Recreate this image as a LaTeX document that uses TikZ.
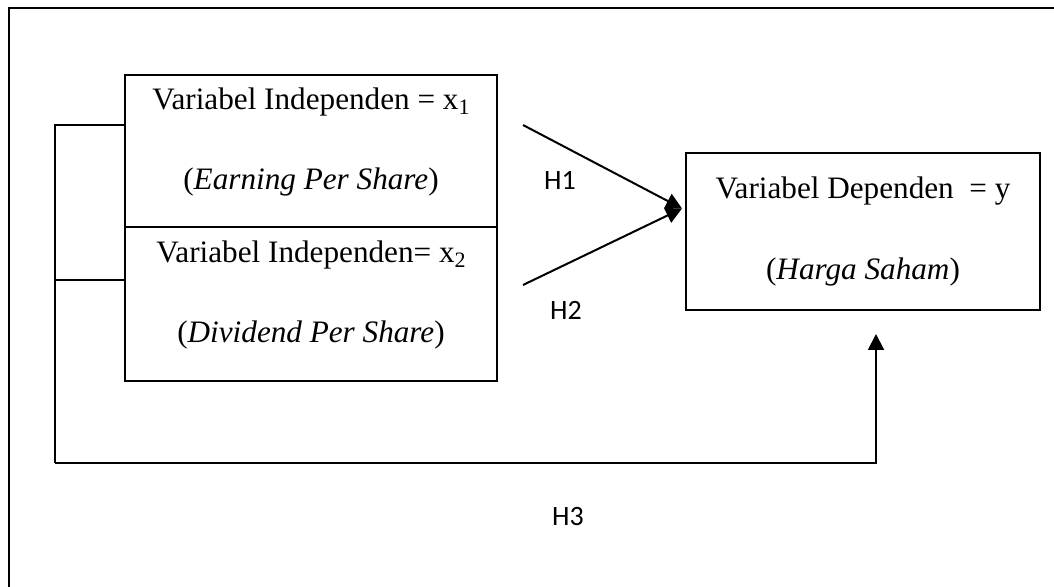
\documentclass[tikz,border=0pt]{standalone}
\usepackage{fontspec}
\setmainfont{Liberation Serif}
\newfontfamily\labelfont{Carlito}
\usetikzlibrary{arrows.meta,positioning}
\newcommand{\lowsub}[1]{\raisebox{-2.5pt}{\fontsize{11}{12}\selectfont #1}}

\begin{document}
\begin{tikzpicture}[x=0.5pt, y=-0.5pt]
\tikzstyle{varbox} = [rectangle, draw, line width=1pt, minimum width=186pt, minimum height=76pt, align=center, inner sep=0pt, font=\fontsize{15.6}{18}\selectfont]
\tikzstyle{link} = [line width=1pt]
\tikzstyle{arrow} = [line width=1pt, -{Triangle[width=8pt,length=8pt]}]
\tikzstyle{hyp} = [font=\labelfont\fontsize{14}{16}\selectfont]

\clip (0,0) rectangle (1054,587);
\draw [link] (9,8) rectangle (1120,660);

\node (x1) [varbox, text depth=12pt] at (311,151) {Variabel Independen = x\lowsub{1}\\[22pt](\textit{Earning Per Share})};
\node (x2) [varbox, text depth=12pt, below=-1pt of x1, minimum height=77pt] {Variabel Independen= x\lowsub{2}\\[22pt](\textit{Dividend Per Share})};
\node (y) [varbox, minimum width=177pt, minimum height=78.5pt] at (863,231.5) {Variabel Dependen~~= y\\[22pt](\textit{Harga Saham})};

\coordinate (s1) at (523,125);
\coordinate (s2) at (523,285);
\coordinate (corner) at (55,463);
\coordinate (b1) at ([yshift=13pt]x1.west);
\coordinate (b2) at ([yshift=12pt]x2.west);

\draw [arrow] (s1) -- ([shift={(-1.5pt,11.5pt)}]y.west);
\draw [arrow] (s2) -- ([shift={(-1.5pt,11.5pt)}]y.west);
\draw [link] (b1) -| (corner);
\draw [link] (b2) -- (corner |- b2);
\draw [arrow] (corner) -| ([shift={(6.5pt,-11.5pt)}]y.south);

\node (h1) [hyp] at (560,180) {H1};
\node (h2) [hyp] at (566,310) {H2};
\node (h3) [hyp] at (568,517) {H3};
\end{tikzpicture}
\end{document}
